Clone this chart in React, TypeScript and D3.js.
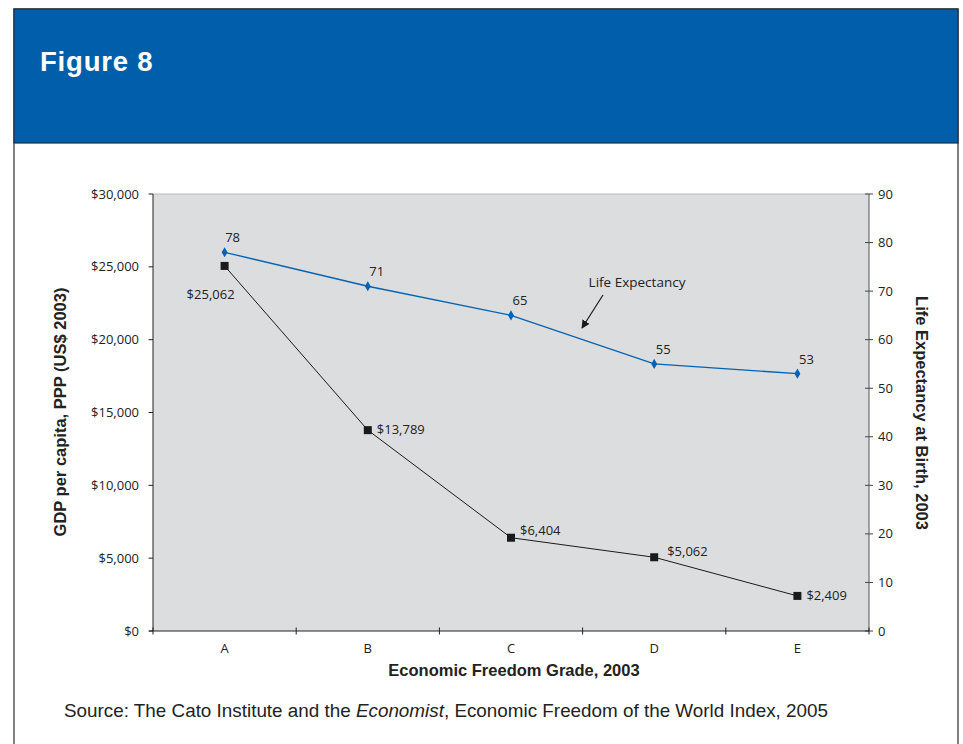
import React from "react";
import * as d3 from "d3";

const grades = ["A", "B", "C", "D", "E"];
const gdpValues = [25062, 13789, 6404, 5062, 2409];
const lifeValues = [78, 71, 65, 55, 53];
const gdpTicks = [0, 5000, 10000, 15000, 20000, 25000, 30000];
const lifeTicks = [0, 10, 20, 30, 40, 50, 60, 70, 80, 90];

const W = 963;
const H = 744;
const plot = { left: 153, right: 869, top: 194, bottom: 631 };

const tickFont = "'Open Sans', 'Noto Sans', sans-serif";
const boldFont = "'Liberation Sans', Arial, sans-serif";
const tickSize = 13;

export default function App() {
  const x = d3.scaleBand<string>().domain(grades).range([plot.left, plot.right]).padding(0);
  const yL = d3.scaleLinear().domain([0, 30000]).range([plot.bottom, plot.top]);
  const yR = d3.scaleLinear().domain([0, 90]).range([plot.bottom, plot.top]);
  const cx = (g: string) => (x(g) ?? 0) + x.bandwidth() / 2;

  const gdpLine = d3
    .line<number>()
    .x((_, i) => cx(grades[i]))
    .y((d) => yL(d));
  const lifeLine = d3
    .line<number>()
    .x((_, i) => cx(grades[i]))
    .y((d) => yR(d));

  const money = (v: number) => "$" + d3.format(",")(v);
  const boundaries = grades.map((g) => x(g) ?? 0).concat([plot.right]);

  // label placement relative to each GDP point
  const gdpLabelOffsets: [number, number, string][] = [
    [-14, 33, "middle"],
    [9, 4, "start"],
    [9, -3, "start"],
    [13, -1, "start"],
    [9, 4, "start"],
  ];

  const diamond = d3.symbol(d3.symbolDiamond, 30)();

  return (
    <svg
      width={W}
      height={H}
      style={{ position: "absolute", left: 0, top: 0, background: "#fff" }}
    >
      {/* frame */}
      <rect x={14} y={9} width={944} height={760} fill="#fff" stroke="#5a5a5a" strokeWidth={1.5} />
      <rect x={14} y={9} width={944} height={134} fill="#005EAA" stroke="#1f2f44" strokeWidth={1.2} />
      <text
        x={40}
        y={71}
        fill="#fff"
        fontFamily={boldFont}
        fontWeight="bold"
        fontSize={27.5}
        letterSpacing={0.8}
      >
        Figure 8
      </text>

      {/* plot background */}
      <rect
        x={plot.left}
        y={plot.top}
        width={plot.right - plot.left}
        height={plot.bottom - plot.top}
        fill="#DCDDDF"
      />
      <line x1={plot.left} x2={plot.right} y1={plot.top} y2={plot.top} stroke="#b8b8b8" strokeWidth={1} />

      {/* left axis */}
      <line x1={plot.left} x2={plot.left} y1={plot.top} y2={plot.bottom} stroke="#222" strokeWidth={1} />
      {gdpTicks.map((t) => (
        <g key={"l" + t}>
          <line x1={plot.left - 4.5} x2={plot.left} y1={yL(t)} y2={yL(t)} stroke="#222" strokeWidth={1} />
          <text
            x={139}
            y={yL(t)}
            dy="0.35em"
            textAnchor="end"
            fontFamily={tickFont}
            fontSize={tickSize}
            fill="#222"
          >
            {money(t)}
          </text>
        </g>
      ))}

      {/* right axis */}
      <line x1={plot.right} x2={plot.right} y1={plot.top} y2={plot.bottom} stroke="#555" strokeWidth={1} />
      {lifeTicks.map((t) => (
        <g key={"r" + t}>
          <line x1={plot.right - 4} x2={plot.right + 4} y1={yR(t)} y2={yR(t)} stroke="#444" strokeWidth={1} />
          <text
            x={878}
            y={yR(t)}
            dy="0.35em"
            textAnchor="start"
            fontFamily={tickFont}
            fontSize={tickSize}
            fill="#222"
          >
            {t}
          </text>
        </g>
      ))}

      {/* bottom axis */}
      <line x1={plot.left - 4} x2={plot.right} y1={plot.bottom} y2={plot.bottom} stroke="#222" strokeWidth={1} />
      {boundaries.map((b, i) => (
        <line key={"b" + i} x1={b} x2={b} y1={plot.bottom - 3.5} y2={plot.bottom + 3.5} stroke="#222" strokeWidth={1} />
      ))}
      {grades.map((g) => (
        <text
          key={"g" + g}
          x={cx(g)}
          y={653}
          textAnchor="middle"
          fontFamily={tickFont}
          fontSize={tickSize}
          fill="#222"
        >
          {g}
        </text>
      ))}

      {/* GDP series */}
      <path d={gdpLine(gdpValues) ?? ""} fill="none" stroke="#1a1a1a" strokeWidth={1} />
      {gdpValues.map((v, i) => (
        <rect
          key={"gs" + i}
          x={cx(grades[i]) - 4}
          y={yL(v) - 4}
          width={8}
          height={8}
          fill="#1a1a1a"
        />
      ))}
      {gdpValues.map((v, i) => (
        <text
          key={"gl" + i}
          x={cx(grades[i]) + gdpLabelOffsets[i][0]}
          y={yL(v) + gdpLabelOffsets[i][1]}
          textAnchor={gdpLabelOffsets[i][2] as any}
          fontFamily={tickFont}
          fontSize={tickSize}
          fill="#222"
        >
          {money(v)}
        </text>
      ))}

      {/* life expectancy series */}
      <path d={lifeLine(lifeValues) ?? ""} fill="none" stroke="#0062B4" strokeWidth={1.3} />
      {lifeValues.map((v, i) => (
        <path
          key={"ls" + i}
          d={diamond ?? ""}
          transform={`translate(${cx(grades[i])},${yR(v)})`}
          fill="#0062B4"
        />
      ))}
      {lifeValues.map((v, i) => (
        <text
          key={"ll" + i}
          x={cx(grades[i]) + (i === 0 ? 8 : 9)}
          y={yR(v) - 10}
          textAnchor="middle"
          fontFamily={tickFont}
          fontSize={tickSize}
          fill="#222"
        >
          {v}
        </text>
      ))}

      {/* series annotation */}
      <defs>
        <marker id="arrowHead" viewBox="0 0 10 10" refX={9} refY={5} markerWidth={7} markerHeight={7} orient="auto">
          <path d="M0,0 L10,5 L0,10 z" fill="#1a1a1a" />
        </marker>
      </defs>
      <text x={637} y={287} textAnchor="middle" fontFamily={tickFont} fontSize={13.5} fill="#222">
        Life Expectancy
      </text>
      <line x1={603} y1={295} x2={582} y2={328} stroke="#1a1a1a" strokeWidth={1.2} markerEnd="url(#arrowHead)" />

      {/* axis titles */}
      <text
        transform={`translate(66,412) rotate(-90)`}
        textAnchor="middle"
        fontFamily={boldFont}
        fontWeight="bold"
        fontSize={16.5}
        fill="#222"
      >
        GDP per capita, PPP (US$ 2003)
      </text>
      <text
        transform={`translate(916,413) rotate(90)`}
        textAnchor="middle"
        fontFamily={boldFont}
        fontWeight="bold"
        fontSize={16.5}
        fill="#222"
      >
        Life Expectancy at Birth, 2003
      </text>
      <text
        x={(plot.left + plot.right) / 2 + 3}
        y={676}
        textAnchor="middle"
        fontFamily={boldFont}
        fontWeight="bold"
        fontSize={16.5}
        fill="#222"
      >
        Economic Freedom Grade, 2003
      </text>

      {/* source note */}
      <text x={64} y={717} fontFamily={boldFont} fontSize={18.85} fill="#222">
        Source: The Cato Institute and the <tspan fontStyle="italic">Economist</tspan>, Economic Freedom of the World Index, 2005
      </text>
    </svg>
  );
}
